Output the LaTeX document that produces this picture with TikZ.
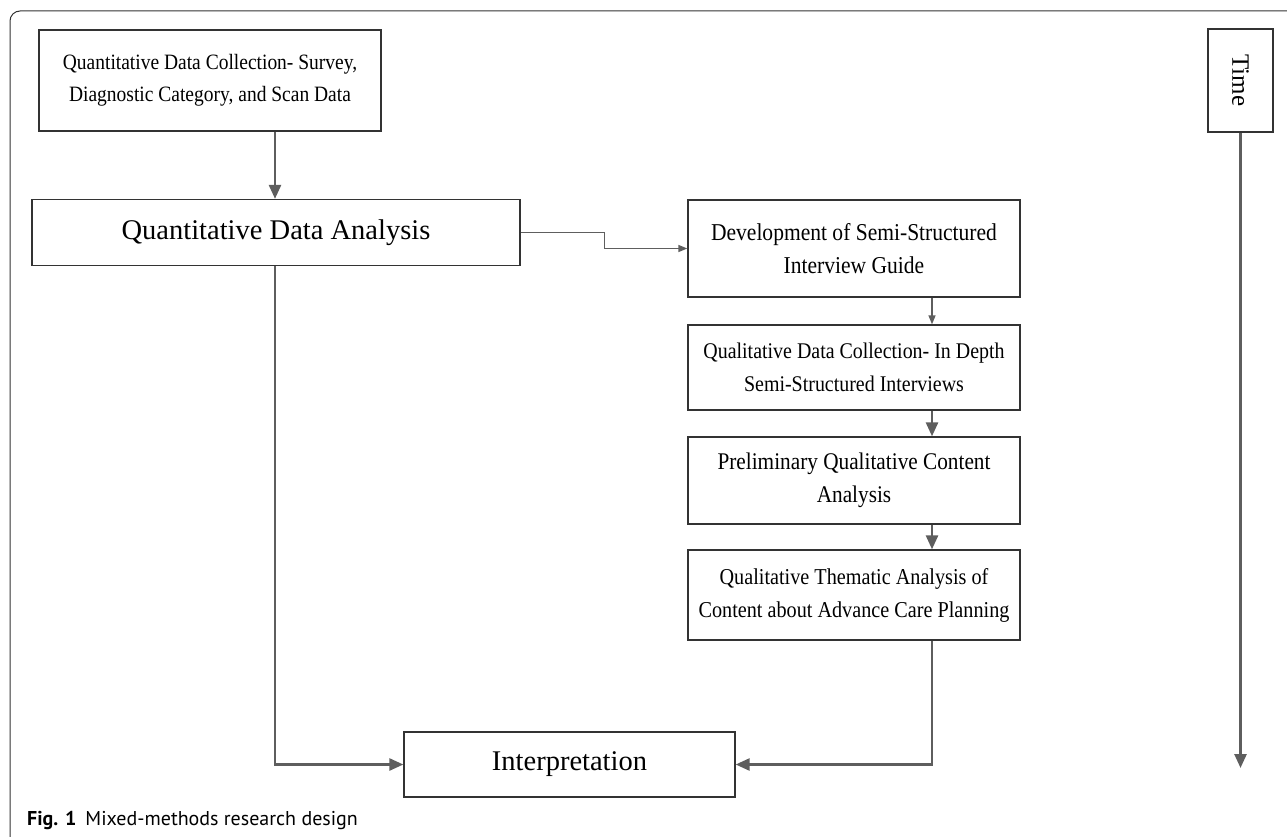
\documentclass[tikz,border=0pt]{standalone}
\usepackage{fontspec}
\setmainfont{Liberation Serif}
\newfontfamily\narrowserif{Liberation Serif}[FakeStretch=0.89]
\newfontfamily\capfont{PT Sans}
\usetikzlibrary{calc,positioning,arrows.meta}
\definecolor{boxline}{HTML}{333333}
\definecolor{flowgray}{HTML}{5E5E5E}

\begin{document}
\begin{tikzpicture}[x=1pt,y=-1pt,
    stage/.style={rectangle,draw=boxline,line width=1.3pt,align=center,
      inner sep=0pt,font=\narrowserif\fontsize{23}{33}\selectfont},
    thick_arrow/.style={-{Triangle[length=14pt,width=12pt]},
      line width=2.6pt,flowgray},
    thin_arrow/.style={-{Triangle[length=9pt,width=7pt]},
      line width=1.3pt,flowgray}]

  \useasboundingbox (0,0) rectangle (1287,837);
  % frame of the figure
  \draw[boxline,line width=1pt,rounded corners=10pt] (1287,11) -- (10,11) -- (10,837);

  \path (210,80.5) node(qcoll) [stage,minimum width=342pt,minimum height=101pt,
      font=\narrowserif\fontsize{21.9}{32}\selectfont]
      {Quantitative Data Collection- Survey,\\Diagnostic Category, and Scan Data}
  (276,232.5) node(qana) [stage,minimum width=488pt,minimum height=66pt,
      font=\fontsize{28.5}{31}\selectfont] {Quantitative Data Analysis}
  (854,248.5) node(guide) [stage,minimum width=332pt,minimum height=97pt,
      font=\narrowserif\fontsize{24.2}{33}\selectfont]
      {Development of Semi-Structured\\Interview Guide}
  (854,367.5) node(interv) [stage,minimum width=332pt,minimum height=85pt,
      font=\narrowserif\fontsize{22.4}{33}\selectfont]
      {Qualitative Data Collection- In Depth\\Semi-Structured Interviews}
  (854,480.5) node(prelim) [stage,minimum width=332pt,minimum height=87pt,
      font=\narrowserif\fontsize{23.9}{33}\selectfont]
      {Preliminary Qualitative Content\\Analysis}
  (854,595) node(theme) [stage,minimum width=332pt,minimum height=90pt,
      font=\narrowserif\fontsize{22.7}{33}\selectfont]
      {Qualitative Thematic Analysis of\\Content about Advance Care Planning}
  (569.5,764.5) node(interp) [stage,minimum width=331pt,minimum height=65pt,
      font=\fontsize{28.5}{31}\selectfont] {Interpretation}
  (1240.5,80.5) node(time) [stage,minimum width=65pt,minimum height=103pt,
      font=\fontsize{25}{30}\selectfont]
      {\rotatebox{-90}{Time}};

  \coordinate (rx) at (932,0);
  \coordinate (lx) at (275,0);
  \coordinate (tend) at (1240.5,768);

  \draw[thick_arrow] (qcoll.south -| lx) -- (qana.north -| lx);
  \draw[thin_arrow] (qana.east) -- ++(84,0) |- (guide.west);
  \draw[thin_arrow] (guide.south -| rx) -- (interv.north -| rx);
  \draw[thick_arrow] (interv.south -| rx) -- (prelim.north -| rx);
  \draw[thick_arrow] (prelim.south -| rx) -- (theme.north -| rx);
  \draw[thick_arrow] (qana.south -| lx) |- (interp.west);
  \draw[thick_arrow] (theme.south -| rx) |- (interp.east);
  \draw[thick_arrow] (time.south) -- (tend);

  \node(caption) [anchor=base west,inner sep=0pt,
      font=\capfont\fontsize{20}{24}\selectfont] at (27,825)
      {\textbf{Fig. 1}\hspace{9pt}Mixed-methods research design};

\end{tikzpicture}
\end{document}
